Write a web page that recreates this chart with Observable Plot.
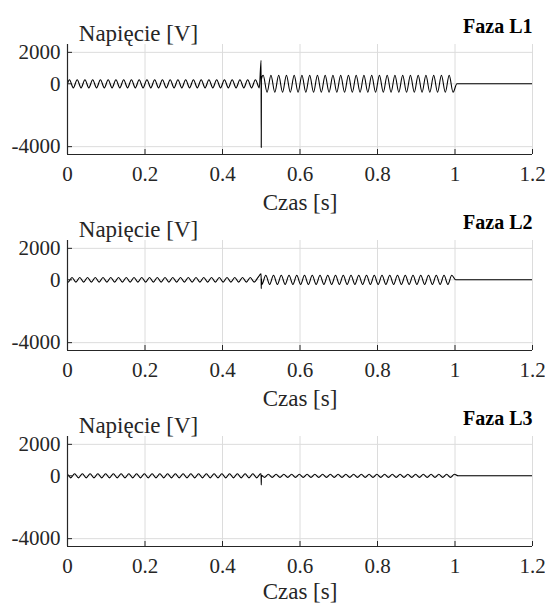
<!DOCTYPE html>
<html><head><meta charset="utf-8">
<script src="https://cdn.jsdelivr.net/npm/d3@7"></script>
<script src="https://cdn.jsdelivr.net/npm/@observablehq/plot@0.6"></script>
<style>
body{margin:0;background:#fff;}
#chart{width:545px;height:605px;position:relative;overflow:hidden;background:#fff;}
#chart svg{display:block;overflow:visible;}
#chart svg, #chart svg text{font-family:"Liberation Serif","Times New Roman",serif !important;}
</style></head><body><div id="chart"></div>
<script>
// ---- data ----
const phaseNames = ["Faza L1", "Faza L2", "Faza L3"];
const yLabel = "Napięcie [V]";
const xLabel = "Czas [s]";
const xTicks = [0, 0.2, 0.4, 0.6, 0.8, 1, 1.2];
const yTicks = [-4000, 0, 2000];
const xDomain = [0, 1.2];
const yDomain = [-4500, 2500];
// segment bounds (s): before switching, after switching, after disconnection
const segBounds = [0, 0.5, 1.0, 1.2];
// half-cycle peak amplitude in each segment (V)
const peakL1 = [260, 540, 0];
const peakL2 = [150, 290, 0];
const peakL3 = [130, 100, 0];
// time of first positive peak (s) of each 50 Hz phase voltage
const firstPeakL1 = 0.005;
const firstPeakL2 = 0.01167;
const firstPeakL3 = -0.00167;
const halfPeriod = 0.01;
// switching transient at t = 0.5 s: max, min (V)
const spikeTime = 0.5;
const spikeL1 = [1500, -4050];
const spikeL2 = [380, -560];
const spikeL3 = [130, -580];

// ---- build tables ----
function ampAt(peaks, t) {
  for (let i = 0; i < peaks.length; i++) if (t < segBounds[i + 1]) return peaks[i];
  return peaks[peaks.length - 1];
}
function buildWave(peaks, firstPeak, spike) {
  const pts = [];
  let sign = 1;
  let t = firstPeak - 2 * halfPeriod;
  let spikeDone = false;
  while (t <= xDomain[1] + halfPeriod) {
    if (!spikeDone && t >= spikeTime) {
      pts.push({t: spikeTime - 0.0004, v: spike[0]});
      pts.push({t: spikeTime, v: spike[1]});
      pts.push({t: spikeTime + 0.0004, v: spike[0] * 0.2});
      spikeDone = true;
    }
    pts.push({t, v: sign * ampAt(peaks, t)});
    sign = -sign;
    t += halfPeriod;
  }
  return pts;
}
const waves = [
  buildWave(peakL1, firstPeakL1, spikeL1),
  buildWave(peakL2, firstPeakL2, spikeL2),
  buildWave(peakL3, firstPeakL3, spikeL3)
];

// ---- drawing ----
const gridColor = "#dcdcdc";
const axisColor = "#262626";
const W = 545, ML = 67, MR = 13, MT = 44, PH = 110;
const heights = [196, 196, 213];
const xLabelOffsets = [48, 48, 45];
const chart = document.getElementById("chart");

waves.forEach((data, i) => {
  const H = heights[i];
  const MB = H - MT - PH;
  const PW = W - ML - MR;
  const svg = Plot.plot({
    width: W, height: H,
    marginLeft: ML, marginRight: MR, marginTop: MT, marginBottom: MB,
    style: {fontFamily: "'Liberation Serif', 'Times New Roman', serif", fontSize: "21px", color: axisColor, background: "white", overflow: "visible"},
    x: {domain: xDomain, ticks: xTicks, tickSize: 0, tickPadding: 12, tickFormat: d => String(d), label: null},
    y: {domain: yDomain, ticks: yTicks, tickSize: 0, tickPadding: 7, tickFormat: d => String(d), label: null},
    marks: [
      Plot.ruleX(xTicks, {stroke: gridColor, strokeWidth: 1}),
      Plot.ruleY(yTicks, {stroke: gridColor, strokeWidth: 1}),
      Plot.line(data, {x: "t", y: "v", stroke: "#000", strokeWidth: 1.1, curve: "monotone-x", clip: true}),
      Plot.ruleX([xDomain[0]], {stroke: axisColor, strokeWidth: 1.2}),
      Plot.ruleY([yDomain[0]], {stroke: axisColor, strokeWidth: 1.2}),
      Plot.tickX(xTicks, {x: d => d, stroke: axisColor, insetTop: PH - 5}),
      Plot.tickY(yTicks, {y: d => d, stroke: axisColor, insetRight: PW - 5}),
      Plot.text([yLabel], {text: d => d, frameAnchor: "top-left", dx: 71, dy: -4, textAnchor: "middle", lineAnchor: "bottom", fontSize: 23, fill: axisColor}),
      Plot.text([phaseNames[i]], {text: d => d, frameAnchor: "top-right", dy: -12, textAnchor: "end", lineAnchor: "bottom", fontSize: 20, fontWeight: "bold", fill: "#000"}),
      Plot.text([xLabel], {text: d => d, frameAnchor: "bottom", dy: xLabelOffsets[i], textAnchor: "middle", lineAnchor: "middle", fontSize: 23, fill: axisColor})
    ]
  });
  chart.appendChild(svg);
});
</script>
</body></html>
